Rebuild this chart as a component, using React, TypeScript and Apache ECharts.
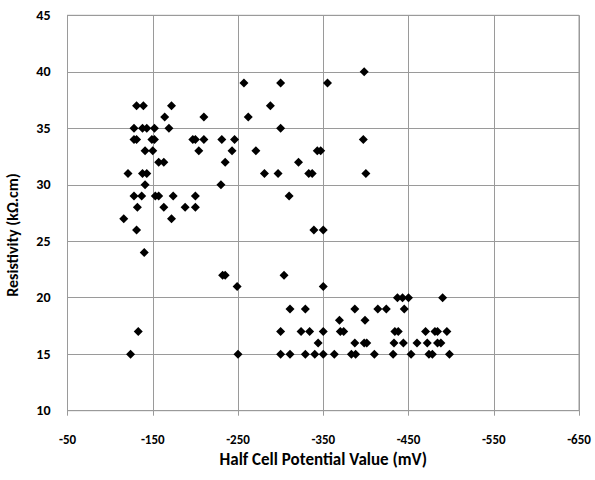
import React, { useEffect, useRef } from "react";
import * as echarts from "echarts";

// Half cell potential (mV) values grouped by resistivity row (kΩ.cm)
const resistivityRows: number[] = [40, 39, 37, 36, 35, 34, 33, 32, 31, 30, 29, 28, 27, 26, 24, 22, 21, 20, 19, 18, 17, 16, 15];
const potentialsByRow: number[][] = [
  [-398],
  [-257, -300, -355],
  [-131, -139, -172, -288],
  [-164, -210, -262],
  [-128, -138, -143, -152, -169, -300],
  [-128, -131, -149, -152, -197, -200, -210, -231, -246, -397],
  [-141, -150, -204, -243, -271, -343, -347],
  [-157, -163, -235, -321],
  [-121, -138, -143, -281, -297, -333, -337, -400],
  [-141, -230],
  [-128, -137, -153, -157, -174, -200, -310],
  [-132, -163, -188, -200],
  [-116, -172],
  [-131, -339, -350],
  [-140],
  [-232, -235, -304],
  [-249, -350],
  [-437, -443, -450, -490],
  [-311, -329, -387, -414, -424, -445],
  [-369, -399],
  [-133, -300, -324, -334, -350, -370, -374, -434, -438, -470, -481, -484, -495],
  [-344, -387, -398, -401, -433, -444, -460, -472, -484, -488],
  [-124, -250, -300, -311, -329, -340, -350, -363, -383, -388, -410, -432, -453, -474, -478, -498],
];

const xTitle = "Half Cell Potential Value (mV)";
const yTitle = "Resistivity (kΩ.cm)";

export default function App() {
  const ref = useRef<HTMLDivElement>(null);
  useEffect(() => {
    if (!ref.current) return;
    const chart = echarts.init(ref.current, null, { renderer: "svg" });
    const points: number[][] = [];
    resistivityRows.forEach((r, i) => {
      potentialsByRow[i].forEach((p) => points.push([p, r]));
    });
    const font = "Carlito, Calibri, Lato, 'Open Sans', sans-serif";
    chart.setOption({
      animation: false,
      backgroundColor: "#ffffff",
      grid: {
        left: 67.5,
        right: 16,
        top: 15.3,
        bottom: 69.3,
        show: true,
        borderColor: "#9a9a9a",
        borderWidth: 1,
      },
      graphic: [
        {
          type: "text",
          x: 12.5,
          y: 235,
          rotation: Math.PI / 2,
          style: {
            text: yTitle,
            fontFamily: font,
            fontWeight: "bold",
            fontSize: 16,
            fill: "#000",
            align: "center",
            verticalAlign: "middle",
          },
        },
      ],
      xAxis: {
        type: "value",
        min: -650,
        max: -50,
        interval: 100,
        inverse: true,
        name: xTitle,
        nameLocation: "middle",
        nameGap: 40,
        nameTextStyle: { fontFamily: font, fontWeight: "bold", fontSize: 17, color: "#000" },
        axisLine: { show: true, lineStyle: { color: "#9a9a9a", width: 1 } },
        axisTick: { show: true, length: 5, lineStyle: { color: "#9a9a9a" } },
        axisLabel: { fontFamily: font, fontWeight: "bold", fontSize: 13, color: "#000", margin: 22 },
        splitLine: { show: true, lineStyle: { color: "#9a9a9a", width: 1 } },
      },
      yAxis: {
        type: "value",
        min: 10,
        max: 45,
        interval: 5,
        axisLine: { show: true, lineStyle: { color: "#9a9a9a", width: 1 } },
        axisTick: { show: false },
        axisLabel: { fontFamily: font, fontWeight: "bold", fontSize: 14, color: "#000", margin: 17 },
        splitLine: { show: true, lineStyle: { color: "#9a9a9a", width: 1 } },
      },
      series: [
        {
          type: "scatter",
          data: points,
          symbol: "diamond",
          symbolSize: 9,
          itemStyle: { color: "#000000", opacity: 1 },
        },
      ],
    });
    return () => chart.dispose();
  }, []);
  return (
    <div
      ref={ref}
      style={{ position: "absolute", left: 0, top: 0, width: 595, height: 480, overflow: "visible" }}
    />
  );
}
